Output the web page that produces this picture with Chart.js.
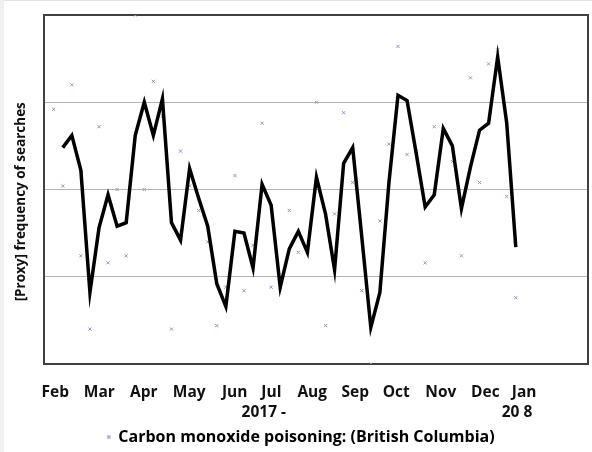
<!DOCTYPE html>
<html>
<head>
<meta charset="utf-8">
<script src="https://cdn.jsdelivr.net/npm/chart.js@4"></script>
<style>
  html, body { margin: 0; padding: 0; background: #ffffff; }
  #wrap { width: 592px; height: 452px; position: relative; }
</style>
</head>
<body>
<div id="wrap"><canvas id="c" width="592" height="452"></canvas></div>
<script>
// ---- Data (weekly Google-Trends style index, Feb 2017 - Jan 2018) ----
const seriesName = 'Carbon monoxide poisoning: (British Columbia)';
const weeklySearches = [73, 51, 80, 31, 10, 68, 29, 50, 31, 100, 50, 81, 71, 10, 61, 51, 44, 35, 11, 22,
  54, 21, 34, 69, 22, 22, 44, 32, 32, 75, 11, 43, 72, 52, 21, 0, 41, 63, 91, 60,
  61, 29, 68, 67, 58, 31, 82, 52, 86, 90, 48, 19];
// 2-period moving average trendline (starts at week 2)
const movingAverage = [null, 62, 65.5, 55.5, 20.5, 39, 48.5, 39.5, 40.5, 65.5, 75, 65.5, 76, 40.5, 35.5, 56,
  47.5, 39.5, 23, 16.5, 38, 37.5, 27.5, 51.5, 45.5, 22, 33, 38, 32, 53.5, 43, 27, 57.5, 62,
  36.5, 10.5, 20.5, 52, 77, 75.5, 60.5, 45, 48.5, 67.5, 62.5, 44.5, 56.5, 67, 69, 88, 69, 33.5];
const monthLabels = ['Feb', 'Mar', 'Apr', 'May', 'Jun', 'Jul', 'Aug', 'Sep', 'Oct', 'Nov', 'Dec', 'Jan'];
const monthTickWeeks = [0.18, 5.03, 9.94, 14.96, 19.98, 24.02, 28.53, 33.29, 37.81, 42.73, 47.64, 51.93];
const yearLabels = ['2017 -', '20 8'];
const yearTickWeeks = [23.19, 51.14];
const yAxisTitle = '[Proxy] frequency of searches';

// ---- build tick list ----
const xTicks = monthLabels.map((m, i) => ({ value: monthTickWeeks[i], label: m }))
  .concat(yearLabels.map((y, i) => ({ value: yearTickWeeks[i], label: ['', y] })))
  .sort((a, b) => a.value - b.value);

const scatterPts = weeklySearches.map((v, i) => ({ x: i, y: v }));
const avgPts = movingAverage.map((v, i) => ({ x: i, y: v }));

const FONT = '"Open Sans", "DejaVu Sans", sans-serif';

const framePlugin = {
  id: 'frame',
  beforeDraw(chart) {
    const ctx = chart.ctx;
    ctx.save();
    ctx.fillStyle = '#ffffff';
    ctx.fillRect(0, 0, chart.width, chart.height);
    ctx.fillStyle = '#e4e4e4';
    ctx.fillRect(0, 0, chart.width, 1);
    ctx.fillStyle = '#f0f0f0';
    ctx.fillRect(0, 0, 4, chart.height);
    ctx.restore();
  },
  beforeDatasetsDraw(chart) {
    const { ctx, chartArea: a } = chart;
    ctx.save();
    ctx.strokeStyle = '#404040';
    ctx.lineWidth = 2;
    ctx.strokeRect(a.left, a.top, a.right - a.left, a.bottom - a.top);
    ctx.restore();
  }
};

Chart.defaults.color = '#111111';
Chart.defaults.font.family = FONT;

new Chart(document.getElementById('c'), {
  type: 'line',
  data: {
    datasets: [
      {
        label: seriesName,
        data: scatterPts,
        showLine: false,
        pointStyle: 'crossRot',
        pointRadius: 2.2,
        pointHoverRadius: 2.2,
        pointBorderColor: '#9890cc',
        pointBackgroundColor: '#9890cc',
        pointBorderWidth: 1,
        order: 2
      },
      {
        label: 'trend',
        data: avgPts,
        borderColor: '#000000',
        borderWidth: 3.5,
        pointRadius: 0,
        tension: 0,
        spanGaps: false,
        fill: false,
        order: 1
      }
    ]
  },
  options: {
    responsive: false,
    animation: false,
    devicePixelRatio: 1,
    layout: { padding: { left: 14, right: 4, top: 15, bottom: -3 } },
    plugins: {
      tooltip: { enabled: false },
      legend: {
        position: 'bottom',
        labels: {
          font: { family: FONT, size: 16, weight: 'bold' },
          color: '#111111',
          padding: 6,
          usePointStyle: true,
          boxWidth: 3,
          boxHeight: 3,
          generateLabels: () => [{
            text: seriesName,
            fillStyle: '#b8b4d4',
            strokeStyle: '#b8b4d4',
            lineWidth: 0,
            pointStyle: 'circle',
            hidden: false,
            datasetIndex: 0
          }]
        }
      }
    },
    scales: {
      x: {
        type: 'linear',
        min: -1.07,
        max: 58.97,
        grid: { display: false, drawTicks: false },
        border: { display: false },
        afterBuildTicks: (scale) => { scale.ticks = xTicks.map(t => ({ value: t.value })); },
        afterFit: (scale) => { scale.height = 59; },
        ticks: {
          autoSkip: false,
          maxRotation: 0,
          minRotation: 0,
          padding: 19,
          color: '#111111',
          font: { family: FONT, size: 15.5, weight: 'bold', lineHeight: 20 / 15.5 },
          callback: (value, index) => xTicks[index] ? xTicks[index].label : ''
        }
      },
      y: {
        min: 0,
        max: 100,
        grid: { color: '#b4b4b4', lineWidth: 1, drawTicks: false },
        border: { display: false },
        ticks: { display: false, stepSize: 25 },
        title: {
          display: true,
          text: yAxisTitle + '       ',
          color: '#111111',
          font: { family: FONT, size: 13.5, weight: 'bold', lineHeight: 14 / 13.5 },
          padding: { top: 0, bottom: 16 }
        }
      }
    }
  },
  plugins: [framePlugin]
});
</script>
</body>
</html>
